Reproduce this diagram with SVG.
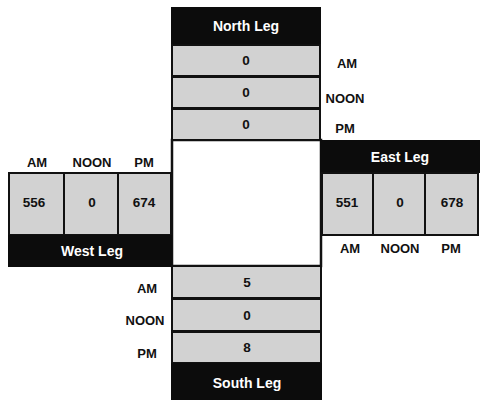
<svg xmlns="http://www.w3.org/2000/svg" width="481" height="403" viewBox="0 0 481 403">
<style>
.hdr{fill:#0c0c0c}
.cell{fill:#d2d2d2;stroke:#111;stroke-width:2}
.box{fill:#fff;stroke:#111;stroke-width:2.5}
.ht{font-family:"Liberation Sans",Arial,sans-serif;font-weight:bold;font-size:14px;fill:#fff;text-anchor:middle}
.num{font-family:"Liberation Sans",Arial,sans-serif;font-weight:bold;font-size:13.5px;fill:#111;text-anchor:middle}
.lbl{font-family:"Liberation Sans",Arial,sans-serif;font-weight:bold;font-size:13px;fill:#111;text-anchor:middle}
</style>
<rect width="481" height="403" fill="#fff"/>
<g id="connectors"></g>
<g id="center">
<rect class="box" x="172" y="140" width="149" height="126"/>
</g>
<g id="north">
<rect class="hdr" x="171" y="7" width="150" height="38"/>
<text class="ht" x="246" y="31">North Leg</text>
<rect class="cell" x="172" y="45" width="148" height="31"/>
<rect class="cell" x="172" y="77" width="148" height="31"/>
<rect class="cell" x="172" y="109" width="148" height="31"/>
<text class="num" x="246" y="65">0</text>
<text class="num" x="246" y="97">0</text>
<text class="num" x="246" y="129">0</text>
<text class="lbl" x="347" y="68">AM</text>
<text class="lbl" x="345" y="103">NOON</text>
<text class="lbl" x="345" y="133">PM</text>
</g>
<g id="west">
<text class="lbl" x="37" y="167">AM</text>
<text class="lbl" x="92" y="167">NOON</text>
<text class="lbl" x="144" y="167">PM</text>
<rect class="cell" x="9" y="173" width="55" height="62"/>
<rect class="cell" x="64" y="173" width="54" height="62"/>
<rect class="cell" x="118" y="173" width="53" height="62"/>
<text class="num" x="34" y="207">556</text>
<text class="num" x="92" y="207">0</text>
<text class="num" x="144" y="207">674</text>
<rect class="hdr" x="8" y="235" width="164" height="32"/>
<text class="ht" x="92" y="256">West Leg</text>
</g>
<g id="east">
<rect class="hdr" x="320" y="140" width="160" height="33"/>
<text class="ht" x="400" y="162">East Leg</text>
<rect class="cell" x="322" y="173" width="51" height="62"/>
<rect class="cell" x="373" y="173" width="52" height="62"/>
<rect class="cell" x="425" y="173" width="53" height="62"/>
<text class="num" x="347" y="207">551</text>
<text class="num" x="400" y="207">0</text>
<text class="num" x="452" y="207">678</text>
<text class="lbl" x="350" y="253">AM</text>
<text class="lbl" x="400" y="253">NOON</text>
<text class="lbl" x="451" y="253">PM</text>
</g>
<g id="south">
<rect class="cell" x="172" y="266" width="149" height="32"/>
<rect class="cell" x="172" y="299" width="149" height="32"/>
<rect class="cell" x="172" y="332" width="149" height="31"/>
<text class="num" x="247" y="287">5</text>
<text class="num" x="247" y="320">0</text>
<text class="num" x="247" y="352">8</text>
<text class="lbl" x="147" y="293">AM</text>
<text class="lbl" x="145" y="325">NOON</text>
<text class="lbl" x="147" y="358">PM</text>
<rect class="hdr" x="171" y="363" width="151" height="37"/>
<text class="ht" x="247" y="388">South Leg</text>
</g>
</svg>
